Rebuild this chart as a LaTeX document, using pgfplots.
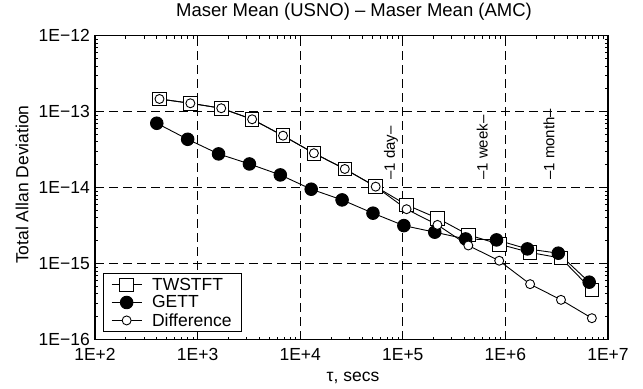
\documentclass[border=0pt]{standalone}
\usepackage{fontspec}
\setmainfont{Liberation Sans}
\usepackage{pgfplots}
\pgfplotsset{compat=1.18}

% Total Allan deviation of the two time-transfer links and of their difference
\pgfplotstableread{
tau      dev
425      1.47e-13
850      1.29e-13
1700     1.11e-13
3400     7.94e-14
6800     4.83e-14
13600    2.84e-14
27200    1.76e-14
54400    1.03e-14
108800   5.92e-15
217600   3.96e-15
435200   2.39e-15
870400   1.80e-15
1740800  1.40e-15
3481600  1.18e-15
6963200  4.51e-16
}\twstft

\pgfplotstableread{
tau      dev
400      7.04e-14
800      4.33e-14
1600     2.78e-14
3200     2.05e-14
6400     1.47e-14
12800    9.53e-15
25600    6.89e-15
51200    4.61e-15
102400   3.16e-15
204800   2.59e-15
409600   2.11e-15
819200   2.05e-15
1638400  1.56e-15
3276800  1.37e-15
6553600  5.69e-16
}\gett

\pgfplotstableread{
tau      dev
425      1.47e-13
850      1.29e-13
1700     1.11e-13
3400     7.94e-14
6800     4.83e-14
13600    2.84e-14
27200    1.76e-14
54400    1.03e-14
108800   5.20e-15
217600   3.23e-15
435200   1.73e-15
870400   1.09e-15
1740800  5.36e-16
3481600  3.33e-16
6963200  1.91e-16
}\diff

\newcommand\labfont{\fontsize{17.5bp}{21bp}\selectfont}

\begin{document}
\begin{tikzpicture}
\begin{axis}[
  name=ax,
  scale only axis,
  width=513bp, height=303.8bp,
  xmode=log, ymode=log,
  xmin=1e2, xmax=1e7, ymin=1e-16, ymax=1e-12,
  xtick={1e2,1e3,1e4,1e5,1e6,1e7},
  xticklabels={1E+2,1E+3,1E+4,1E+5,1E+6,1E+7},
  ytick={1e-16,1e-15,1e-14,1e-13,1e-12},
  yticklabels={1E−16,1E−15,1E−14,1E−13,1E−12},
  tick label style={font=\labfont, inner sep=0pt},
  xticklabel style={anchor=base, yshift=-21.2bp},
  yticklabel style={anchor=east, xshift=-5bp},
  tick align=inside,
  major tick length=5bp, minor tick length=3bp,
  every tick/.style={black, line width=0.8bp},
  axis line style={black, line width=1.1bp},
  grid=major,
  major grid style={black, line width=0.8bp, dash pattern=on 9bp off 5bp},
  title={Maser Mean (USNO) – Maser Mean (AMC)},
  title style={font=\fontsize{18.5bp}{22bp}\selectfont, at={(axis description cs:0.505,1.043)}, anchor=base, inner sep=0pt},
  xlabel={τ, secs},
  xlabel style={font=\labfont, at={(axis description cs:0.503,-0.138)}, anchor=base, inner sep=0pt},
  ylabel={Total Allan Deviation},
  ylabel style={font=\labfont, at={(axis description cs:-0.130,0.51)}, anchor=base, inner sep=0pt},
  legend style={font=\labfont, at={(rel axis cs:0.015,0.0247)}, anchor=south west,
    draw=black, line width=1bp, inner xsep=8bp, inner ysep=2bp, row sep=0pt,
    nodes={inner sep=2bp}},
  legend cell align=left,
  legend image code/.code={%
    \draw[mark repeat=2, mark phase=2, #1] plot coordinates {(0bp,0bp) (15bp,0bp) (30bp,0bp)};
    \path (38bp,0bp);},
]
\addplot[black, line width=0.9bp, mark=square*, mark size=6.8bp,
  mark options={fill=white, draw=black, line width=0.9bp}]
  table[x=tau, y=dev] {\twstft};
\addlegendentry{TWSTFT}
\addplot[black, line width=0.9bp, mark=*, mark size=6.3bp,
  mark options={fill=black, draw=black}]
  table[x=tau, y=dev] {\gett};
\addlegendentry{GETT}
\addplot[black, line width=0.9bp, mark=*, mark size=4.5bp,
  mark options={fill=white, draw=black, line width=0.9bp}]
  table[x=tau, y=dev] {\diff};
\addlegendentry{Difference}

% Time-scale markers
\node[rotate=90, anchor=west, inner sep=0pt, font=\fontsize{15bp}{18bp}\selectfont]
  at (axis cs:7.67e4,1.26e-14) {–1 day–};
\node[rotate=90, anchor=west, inner sep=0pt, font=\fontsize{15bp}{18bp}\selectfont]
  at (axis cs:5.96e5,1.26e-14) {–1 week–};
\node[rotate=90, anchor=west, inner sep=0pt, font=\fontsize{15bp}{18bp}\selectfont]
  at (axis cs:2.66e6,1.26e-14) {–1 month–};
\end{axis}
\pgfresetboundingbox
\path[use as bounding box] ([xshift=-95bp,yshift=-48.5bp]ax.south west)
  rectangle ([xshift=35bp,yshift=35.7bp]ax.north east);
\end{tikzpicture}
\end{document}
